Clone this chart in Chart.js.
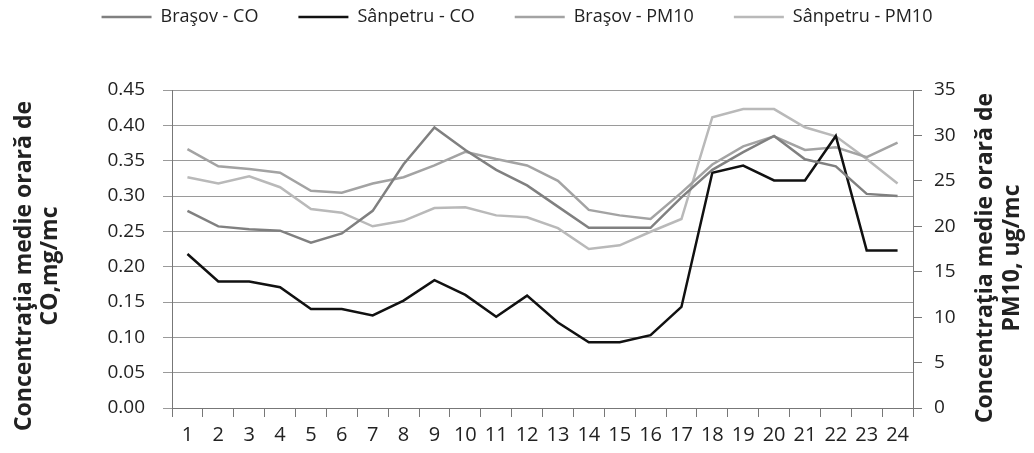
<!DOCTYPE html>
<html>
<head>
<meta charset="utf-8">
<script src="https://cdn.jsdelivr.net/npm/chart.js@4.4.1/dist/chart.umd.min.js"></script>
<style>
  html, body { margin: 0; padding: 0; background: #fff; }
</style>
</head>
<body>
<canvas id="chart" width="1034" height="453"></canvas>
<script>
// ore (1..24)
const hours = ['1','2','3','4','5','6','7','8','9','10','11','12','13','14','15','16','17','18','19','20','21','22','23','24'];

// CO, mg/mc (axa stanga)
const brasovCO = [0.279, 0.257, 0.253, 0.251, 0.234, 0.247, 0.279, 0.345, 0.397, 0.365, 0.337, 0.315,
                  0.285, 0.255, 0.255, 0.255, 0.298, 0.337, 0.362, 0.385, 0.352, 0.342, 0.303, 0.300];
const sanpetruCO = [0.218, 0.179, 0.179, 0.171, 0.140, 0.140, 0.131, 0.152, 0.181, 0.160, 0.129, 0.159,
                    0.121, 0.093, 0.093, 0.103, 0.143, 0.333, 0.343, 0.322, 0.322, 0.385, 0.223, 0.223];

// PM10, ug/mc (axa dreapta)
const brasovPM10 = [28.5, 26.6, 26.3, 25.9, 23.9, 23.7, 24.7, 25.4, 26.7, 28.2, 27.4, 26.7,
                    25.0, 21.8, 21.2, 20.8, 23.7, 26.8, 28.8, 29.9, 28.4, 28.7, 27.6, 29.2];
const sanpetruPM10 = [25.4, 24.7, 25.5, 24.3, 21.9, 21.5, 20.0, 20.6, 22.0, 22.1, 21.2, 21.0,
                      19.8, 17.5, 17.9, 19.4, 20.8, 32.0, 32.9, 32.9, 30.9, 29.9, 27.4, 24.7];

const coMax = 0.45, coStep = 0.05;
const pmMax = 35, pmStep = 5;

const leftTitle = ['Concentraţia medie orară de', 'CO,mg/mc'];
const rightTitle = ['Concentraţia medie orară de', 'PM10, ug/mc'];

const FONT = '"Open Sans", "DejaVu Sans", sans-serif';
const PAD_TOP = -32;      // legenda sus, aproape de margine
const PLOT_TOP = 90;      // unde incepe zona graficului

// legenda ocupa tot spatiul pana la zona graficului
const legendSpace = {
    id: 'legendSpace',
    beforeInit(chart) {
        const lg = chart.legend;
        if (!lg) return;
        const fit = lg.fit;
        lg.fit = function () {
            fit.call(this);
            this.height = PLOT_TOP - PAD_TOP;
        };
    }
};

// titlurile axelor, rotite (citire de jos in sus pe ambele parti)
const axisTitles = {
    id: 'axisTitles',
    afterDraw(chart) {
        const ctx = chart.ctx;
        ctx.save();
        ctx.fillStyle = '#222';
        ctx.font = 'bold 23px ' + FONT;
        ctx.textAlign = 'center';
        ctx.textBaseline = 'middle';
        const draw = (lines, xs, cy) => {
            lines.forEach((t, i) => {
                ctx.save();
                ctx.translate(xs[i], cy);
                ctx.rotate(-Math.PI / 2);
                ctx.fillText(t, 0, 0);
                ctx.restore();
            });
        };
        draw(leftTitle, [24, 50], 266);
        draw(rightTitle, [985, 1012], 258);
        ctx.restore();
    }
};

const ctx = document.getElementById('chart');
new Chart(ctx, {
    type: 'line',
    data: {
        labels: hours,
        datasets: [
            { label: 'Braşov - CO', data: brasovCO, yAxisID: 'y',
              borderColor: '#808080', borderWidth: 2.5 },
            { label: 'Sânpetru - CO', data: sanpetruCO, yAxisID: 'y',
              borderColor: '#111111', borderWidth: 2.5 },
            { label: 'Braşov - PM10', data: brasovPM10, yAxisID: 'y2',
              borderColor: '#a3a3a3', borderWidth: 2.5 },
            { label: 'Sânpetru - PM10', data: sanpetruPM10, yAxisID: 'y2',
              borderColor: '#b9b9b9', borderWidth: 2.5 }
        ]
    },
    options: {
        responsive: false,
        devicePixelRatio: 1,
        animation: false,
        layout: { padding: { top: PAD_TOP, bottom: 0, left: 0, right: 0 } },
        elements: {
            point: { radius: 0 },
            line: { tension: 0 }
        },
        plugins: {
            tooltip: { enabled: false },
            legend: {
                position: 'top',
                labels: {
                    usePointStyle: true,
                    pointStyle: 'line',
                    pointStyleWidth: 50,
                    boxHeight: 14,
                    padding: 40,
                    color: '#222',
                    font: { family: FONT, size: 18 }
                }
            }
        },
        scales: {
            x: {
                offset: true,
                grid: { offset: true, drawOnChartArea: false, tickLength: 9, color: '#777' },
                border: { color: '#777' },
                ticks: { color: '#222', padding: 6, maxRotation: 0, autoSkip: false,
                         font: { family: FONT, size: 20 } },
                afterFit(scale) { scale.height = 45; }
            },
            y: {
                position: 'left',
                min: 0, max: coMax,
                ticks: { stepSize: coStep, color: '#222', padding: 18,
                         font: { family: FONT, size: 19 },
                         callback: v => v.toFixed(2) },
                grid: { color: '#9a9a9a', tickLength: 9 },
                border: { color: '#777' },
                afterFit(scale) { scale.width = 172; }
            },
            y2: {
                position: 'right',
                min: 0, max: pmMax,
                ticks: { stepSize: pmStep, color: '#222', padding: 12,
                         font: { family: FONT, size: 19 } },
                grid: { drawOnChartArea: false, tickLength: 9, color: '#777' },
                border: { color: '#777' },
                afterFit(scale) { scale.width = 121; }
            }
        }
    },
    plugins: [legendSpace, axisTitles]
});
</script>
</body>
</html>
